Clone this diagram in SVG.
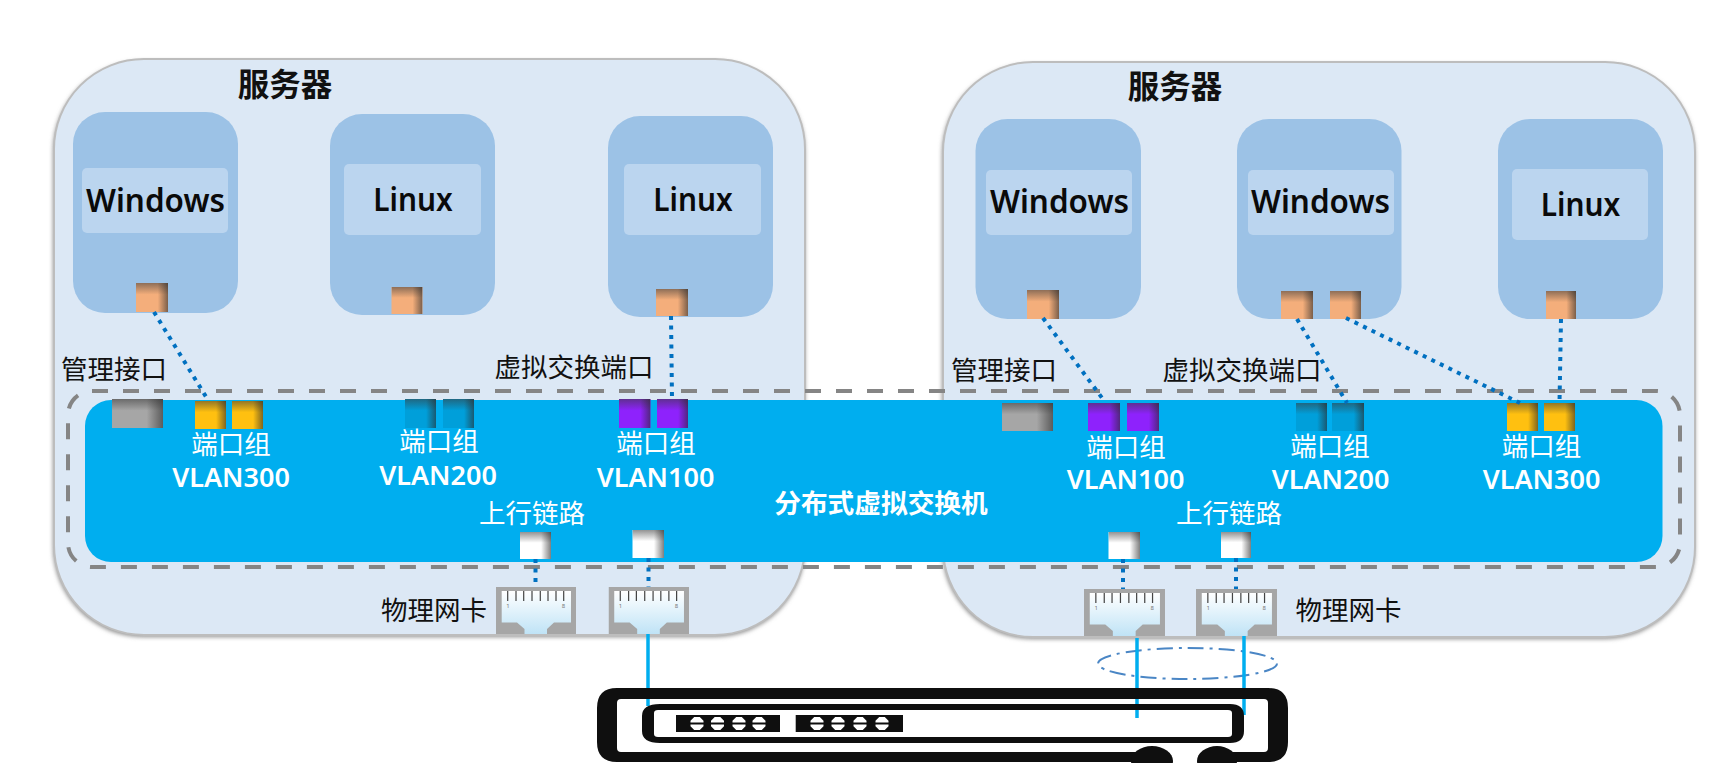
<svg xmlns="http://www.w3.org/2000/svg" width="1710" height="763" viewBox="0 0 1710 763">
<style>
text{font-family:"Noto Sans CJK SC","Noto Sans",sans-serif;font-size:26.500px;text-anchor:middle;fill:#111}
.en{font-family:"Noto Sans","Open Sans",sans-serif;font-weight:600;font-size:31.500px;fill:#0a0a0a}
.vlan{font-family:"Noto Sans","Open Sans",sans-serif;font-weight:600;font-size:27px;fill:#fff}
.h{font-weight:700;font-size:31.500px;fill:#111}
.w{fill:#fff}
.wb{fill:#fff;font-weight:700;font-size:26.700px}
.pin{font-family:"Noto Sans",sans-serif;font-size:6px;fill:#777}
.srv{fill:#dce8f5;stroke:#bdbdbd;stroke-width:2}
.vm{fill:#9cc2e6}
.in{fill:#bbd5ef}
.dash{fill:none;stroke:#858585;stroke-width:4;stroke-dasharray:16 15}
.dot{fill:none;stroke:#0070c0;stroke-width:4;stroke-dasharray:4 5.500}
.cable{fill:none;stroke:#00aeef;stroke-width:3.500}
.k{fill:#0f0f0f}
.org{fill:#f4ae7b}.yel{fill:#ffc010}.pur{fill:#8e22fc}.tea{fill:#009fda}.gry{fill:#a6a6a6}.wht{fill:#fff}
</style>
<defs>
<linearGradient id="st" x1="0" y1="0" x2="0" y2="1"><stop offset="0" stop-color="#3a3a3a" stop-opacity=".55"/><stop offset=".4" stop-color="#3a3a3a" stop-opacity="0"/></linearGradient>
<linearGradient id="sr" x1="0" y1="0" x2="1" y2="0"><stop offset=".68" stop-color="#2a2a2a" stop-opacity="0"/><stop offset="1" stop-color="#2a2a2a" stop-opacity=".6"/></linearGradient>
<linearGradient id="nicg" x1="0" y1="0" x2="0" y2="1"><stop offset="0" stop-color="#fff"/><stop offset="1" stop-color="#bfe3f6"/></linearGradient>
<filter id="sh" x="-2%" y="-2%" width="104%" height="104%"><feGaussianBlur stdDeviation="2"/></filter>
<symbol id="shade" viewBox="0 0 10 10" preserveAspectRatio="none"><rect width="10" height="10" fill="url(#st)"/><rect width="10" height="10" fill="url(#sr)"/></symbol>
<symbol id="nic" viewBox="0 0 80 47" preserveAspectRatio="none">
<rect width="80" height="47" fill="#a6a6a6"/>
<polygon points="5.700,4 75,4 75,35.500 58,35.500 51,42 51,47 28.500,47 28.500,42 21,35.500 5.700,35.500" fill="url(#nicg)"/>
<path d="M11.700 4V14M20 4V14M27.700 4V14M36 4V14M44.300 4V14M52 4V14M60 4V14M67.700 4V14" stroke="#444" stroke-width="1.200" fill="none"/>
<text class="pin" x="12" y="21">1</text><text class="pin" x="67.500" y="21">8</text>
</symbol>
<symbol id="rj" viewBox="0 0 14 14"><path d="M4 0H10L14 4V6H0V4ZM0 8H14V10L10 14H4L0 10Z" fill="#fff"/></symbol>
</defs>
<rect width="1710" height="763" fill="#fff"/>
<rect x="53" y="61" width="752" height="576" rx="90" fill="#8f8f8f" filter="url(#sh)"/>
<rect x="942" y="64" width="753" height="575" rx="90" fill="#8f8f8f" filter="url(#sh)"/>
<g id="server-left">
<rect class="srv" x="54" y="59" width="751" height="576" rx="90"/>
<text class="h" x="285" y="96">服务器</text>
</g>
<g id="server-right">
<rect class="srv" x="943" y="62" width="752" height="575" rx="90"/>
<text class="h" x="1175" y="98">服务器</text>
</g>
<g id="vm-l1">
<rect class="vm" x="73" y="112" width="165" height="201" rx="32"/>
<rect class="in" x="82" y="168" width="146" height="65" rx="5"/>
<text class="en" x="155.500" y="212" textLength="139" lengthAdjust="spacingAndGlyphs">Windows</text>
<rect class="org" x="136" y="283" width="32" height="29"/><use href="#shade" x="136" y="283" width="32" height="29"/>
</g>
<g id="vm-l2">
<rect class="vm" x="330" y="114" width="165" height="201" rx="32"/>
<rect class="in" x="344" y="164" width="137" height="71" rx="5"/>
<text class="en" x="413" y="211" textLength="79.500" lengthAdjust="spacingAndGlyphs">Linux</text>
<rect class="org" x="391.500" y="287" width="31" height="27"/><use href="#shade" x="391.500" y="287" width="31" height="27"/>
</g>
<g id="vm-l3">
<rect class="vm" x="608" y="116" width="165" height="201" rx="32"/>
<rect class="in" x="624" y="164" width="137" height="71" rx="5"/>
<text class="en" x="693" y="211" textLength="79.500" lengthAdjust="spacingAndGlyphs">Linux</text>
<rect class="org" x="656" y="289" width="32" height="27"/><use href="#shade" x="656" y="289" width="32" height="27"/>
</g>
<g id="vm-r1">
<rect class="vm" x="975.500" y="119" width="165.500" height="200" rx="32"/>
<rect class="in" x="986" y="170" width="146" height="65" rx="5"/>
<text class="en" x="1059.500" y="213" textLength="139" lengthAdjust="spacingAndGlyphs">Windows</text>
<rect class="org" x="1027" y="290" width="32" height="29"/><use href="#shade" x="1027" y="290" width="32" height="29"/>
</g>
<g id="vm-r2">
<rect class="vm" x="1237" y="119" width="164.500" height="200" rx="32"/>
<rect class="in" x="1248" y="170" width="146" height="65" rx="5"/>
<text class="en" x="1320.500" y="213" textLength="139" lengthAdjust="spacingAndGlyphs">Windows</text>
<rect class="org" x="1281" y="291" width="32" height="28"/><use href="#shade" x="1281" y="291" width="32" height="28"/>
<rect class="org" x="1330" y="291" width="31" height="28"/><use href="#shade" x="1330" y="291" width="31" height="28"/>
</g>
<g id="vm-r3">
<rect class="vm" x="1498" y="119" width="165" height="200" rx="32"/>
<rect class="in" x="1512" y="169" width="136" height="71" rx="5"/>
<text class="en" x="1580.500" y="216" textLength="79.500" lengthAdjust="spacingAndGlyphs">Linux</text>
<rect class="org" x="1546" y="291" width="30" height="28"/><use href="#shade" x="1546" y="291" width="30" height="28"/>
</g>
<g id="labels-mgmt">
<text x="114" y="379">管理接口</text>
<text x="574" y="377">虚拟交换端口</text>
<text x="1004" y="380">管理接口</text>
<text x="1242" y="380">虚拟交换端口</text>
</g>
<g id="distributed-switch">
<rect x="85" y="400" width="1577.500" height="162" rx="26" fill="#00aeef"/>
<rect class="dash" x="68" y="391" width="1612" height="176" rx="24"/>
<text class="wb" x="881" y="513">分布式虚拟交换机</text>
</g>
<g id="pg-left">
<rect class="gry" x="112" y="399" width="51" height="29"/><use href="#shade" x="112" y="399" width="51" height="29"/>
<rect class="yel" x="195" y="401" width="31" height="28"/><use href="#shade" x="195" y="401" width="31" height="28"/>
<rect class="yel" x="232" y="401" width="31" height="28"/><use href="#shade" x="232" y="401" width="31" height="28"/>
<text class="w" x="231" y="454">端口组</text><text class="vlan" x="231" y="486.500">VLAN300</text>
<rect class="tea" x="405" y="399" width="31" height="29"/><use href="#shade" x="405" y="399" width="31" height="29"/>
<rect class="tea" x="443" y="399" width="31" height="29"/><use href="#shade" x="443" y="399" width="31" height="29"/>
<text class="w" x="439" y="451">端口组</text><text class="vlan" x="438" y="485">VLAN200</text>
<rect class="pur" x="619" y="399" width="31.500" height="29"/><use href="#shade" x="619" y="399" width="31.500" height="29"/>
<rect class="pur" x="657" y="399" width="31" height="29"/><use href="#shade" x="657" y="399" width="31" height="29"/>
<text class="w" x="656" y="453">端口组</text><text class="vlan" x="655.500" y="486.500">VLAN100</text>
</g>
<g id="pg-right">
<rect class="gry" x="1002" y="403" width="51" height="28"/><use href="#shade" x="1002" y="403" width="51" height="28"/>
<rect class="pur" x="1088" y="403" width="32" height="28"/><use href="#shade" x="1088" y="403" width="32" height="28"/>
<rect class="pur" x="1127" y="403" width="32" height="28"/><use href="#shade" x="1127" y="403" width="32" height="28"/>
<text class="w" x="1126" y="457">端口组</text><text class="vlan" x="1125.500" y="489">VLAN100</text>
<rect class="tea" x="1296" y="403" width="31" height="28"/><use href="#shade" x="1296" y="403" width="31" height="28"/>
<rect class="tea" x="1332" y="403" width="32" height="28"/><use href="#shade" x="1332" y="403" width="32" height="28"/>
<text class="w" x="1330" y="456">端口组</text><text class="vlan" x="1330.500" y="489">VLAN200</text>
<rect class="yel" x="1507" y="403" width="31" height="28"/><use href="#shade" x="1507" y="403" width="31" height="28"/>
<rect class="yel" x="1544" y="403" width="31" height="28"/><use href="#shade" x="1544" y="403" width="31" height="28"/>
<text class="w" x="1541.500" y="456">端口组</text><text class="vlan" x="1541.500" y="489">VLAN300</text>
</g>
<g id="uplinks">
<text class="w" x="532" y="523">上行链路</text>
<rect class="wht" x="520" y="532" width="31" height="27"/><use href="#shade" x="520" y="532" width="31" height="27"/>
<rect class="wht" x="632.500" y="530" width="31.500" height="28"/><use href="#shade" x="632.500" y="530" width="31.500" height="28"/>
<text class="w" x="1229" y="523">上行链路</text>
<rect class="wht" x="1108.500" y="532" width="31.500" height="27"/><use href="#shade" x="1108.500" y="532" width="31.500" height="27"/>
<rect class="wht" x="1221" y="532" width="30" height="26"/><use href="#shade" x="1221" y="532" width="30" height="26"/>
</g>
<g id="nic-left">
<text x="434" y="620">物理网卡</text>
<use href="#nic" x="496" y="587" width="80" height="47"/>
<use href="#nic" x="608.500" y="587" width="80.500" height="47"/>
</g>
<g id="nic-right">
<use href="#nic" x="1084" y="589" width="81" height="47"/>
<use href="#nic" x="1196" y="589" width="81" height="47"/>
<text x="1348.500" y="620">物理网卡</text>
</g>
<ellipse id="lag" cx="1187.500" cy="663.500" rx="89.500" ry="15.500" fill="none" stroke="#4a86c5" stroke-width="2" stroke-dasharray="16 6 3 6"/>
<g id="connectors">
<path class="dot" d="M154 312L208 400"/>
<path class="dot" d="M671 316L672 399"/>
<path class="dot" d="M1043 318L1105 402"/>
<path class="dot" d="M1297 319L1347 403"/>
<path class="dot" d="M1346 318L1520 403"/>
<path class="dot" d="M1561 319L1559.500 403"/>
<path class="dot" d="M535.500 559V587"/>
<path class="dot" d="M648.500 558V587"/>
<path class="dot" d="M1123 559V589"/>
<path class="dot" d="M1236 558V589"/>
<path class="cable" d="M648 634V706"/>
<path class="cable" d="M1137 638V718"/>
<path class="cable" d="M1244 636V715"/>
</g>
<g id="physical-switch">
<path class="k" d="M1152 752H621Q617 752 617 748V703Q617 699 621 699H1264Q1268 699 1268 703V748Q1268 752 1264 752H1217V762H1268Q1288 762 1288 742V708Q1288 688 1268 688H617Q597 688 597 708V742Q597 762 617 762H1152Z"/>
<ellipse class="k" cx="1152" cy="761" rx="21" ry="15"/>
<ellipse class="k" cx="1217" cy="761" rx="20" ry="15"/>
<path class="k" fill-rule="evenodd" d="M660 704H1230Q1244 704 1244 716V731Q1244 743 1230 743H660Q642 743 642 731V716Q642 704 660 704ZM658 710Q654 710 654 713V734Q654 737 658 737H1228Q1232 737 1232 734V713Q1232 710 1228 710Z"/>
<rect class="k" x="676" y="715" width="104" height="17"/>
<rect class="k" x="795.700" y="715" width="107.300" height="17"/>
<use href="#rj" x="690" y="717" width="14" height="13"/><use href="#rj" x="710.500" y="717" width="14" height="13"/><use href="#rj" x="732" y="717" width="14" height="13"/><use href="#rj" x="752" y="717" width="14" height="13"/>
<use href="#rj" x="810" y="717" width="14" height="13"/><use href="#rj" x="831" y="717" width="14" height="13"/><use href="#rj" x="853" y="717" width="14" height="13"/><use href="#rj" x="875" y="717" width="14" height="13"/>
</g>
</svg>
